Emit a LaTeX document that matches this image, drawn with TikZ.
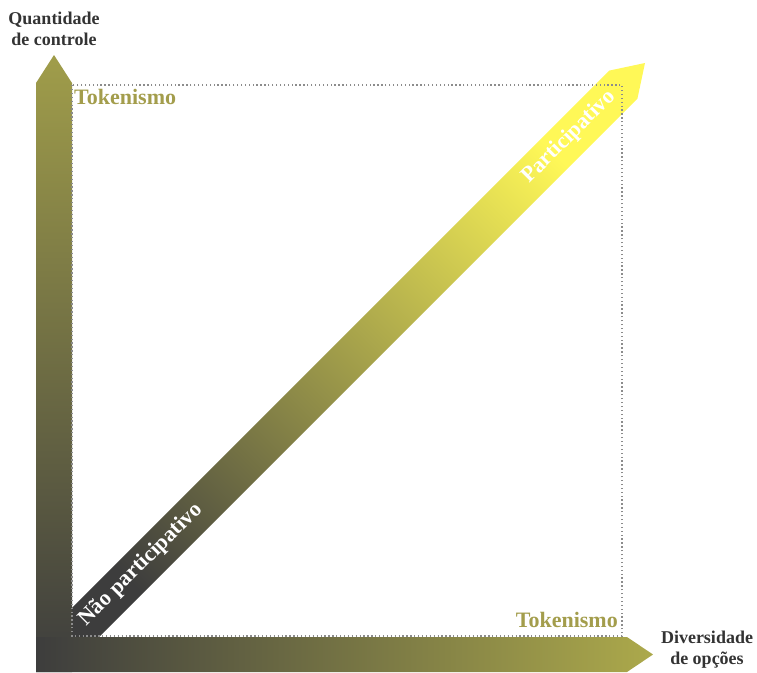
\documentclass[tikz,border=0pt]{standalone}
\usepackage{fontspec}
\setmainfont{Liberation Serif}
\usetikzlibrary{positioning,calc}
\definecolor{escuro}{HTML}{3D3D3D}
\definecolor{olivaY}{HTML}{A09D4A}
\definecolor{olivaX}{HTML}{ACA94B}
\definecolor{olivaM}{HTML}{ACA84E}
\definecolor{amarelo}{HTML}{FFF857}
\definecolor{textoOliva}{HTML}{A39D4C}
\definecolor{cinza}{HTML}{333333}

\begin{document}
\begin{tikzpicture}[x=1pt, y=-1pt,
  eixo/.style={font=\fontsize{18}{21}\selectfont\bfseries, text=cinza, align=center},
  token/.style={font=\fontsize{22}{24}\selectfont\bfseries, text=textoOliva, inner sep=0pt},
  faixa/.style={font=\fontsize{22}{24}\selectfont\bfseries, text=white, rotate=45, inner sep=0pt},
  grade/.style={draw=gray!90, line width=1.2pt, dash pattern=on 1.3pt off 2.6pt},
]
\useasboundingbox (0,0) rectangle (757,672);

% Diagonal
\shade[bottom color=escuro, middle color=olivaM, top color=amarelo, shading angle=-45]
  (37.9,641.9) -- (609.2,70.6) -- (645,63) -- (637.4,98.8) -- (66.1,670.1) -- cycle;

% Eixos
\shade[top color=olivaY, bottom color=escuro]
  (36,672) -- (36,83) -- (54,55) -- (72,83) -- (72,672) -- cycle;
\shade[left color=escuro, right color=olivaX]
  (36,637) -- (627,637) -- (653,654.5) -- (627,672) -- (36,672) -- cycle;

% Quadro pontilhado
\draw[grade] (72,85) rectangle (622,636);

% Rotulos
\node[eixo] (eixoY) at (54,29) {Quantidade\\de controle};
\node[eixo] (eixoX) at (707,650) {Diversidade\\de opções};
\node[token, anchor=base west] (tokenY) at (74,104) {Tokenismo};
\node[token, anchor=base east] (tokenX) at (618,627) {Tokenismo};
\node[faixa] (particip) at (569,137) {Participativo};
\node[faixa] (naoPart) at (141,565) {Não participativo};

\end{tikzpicture}
\end{document}
